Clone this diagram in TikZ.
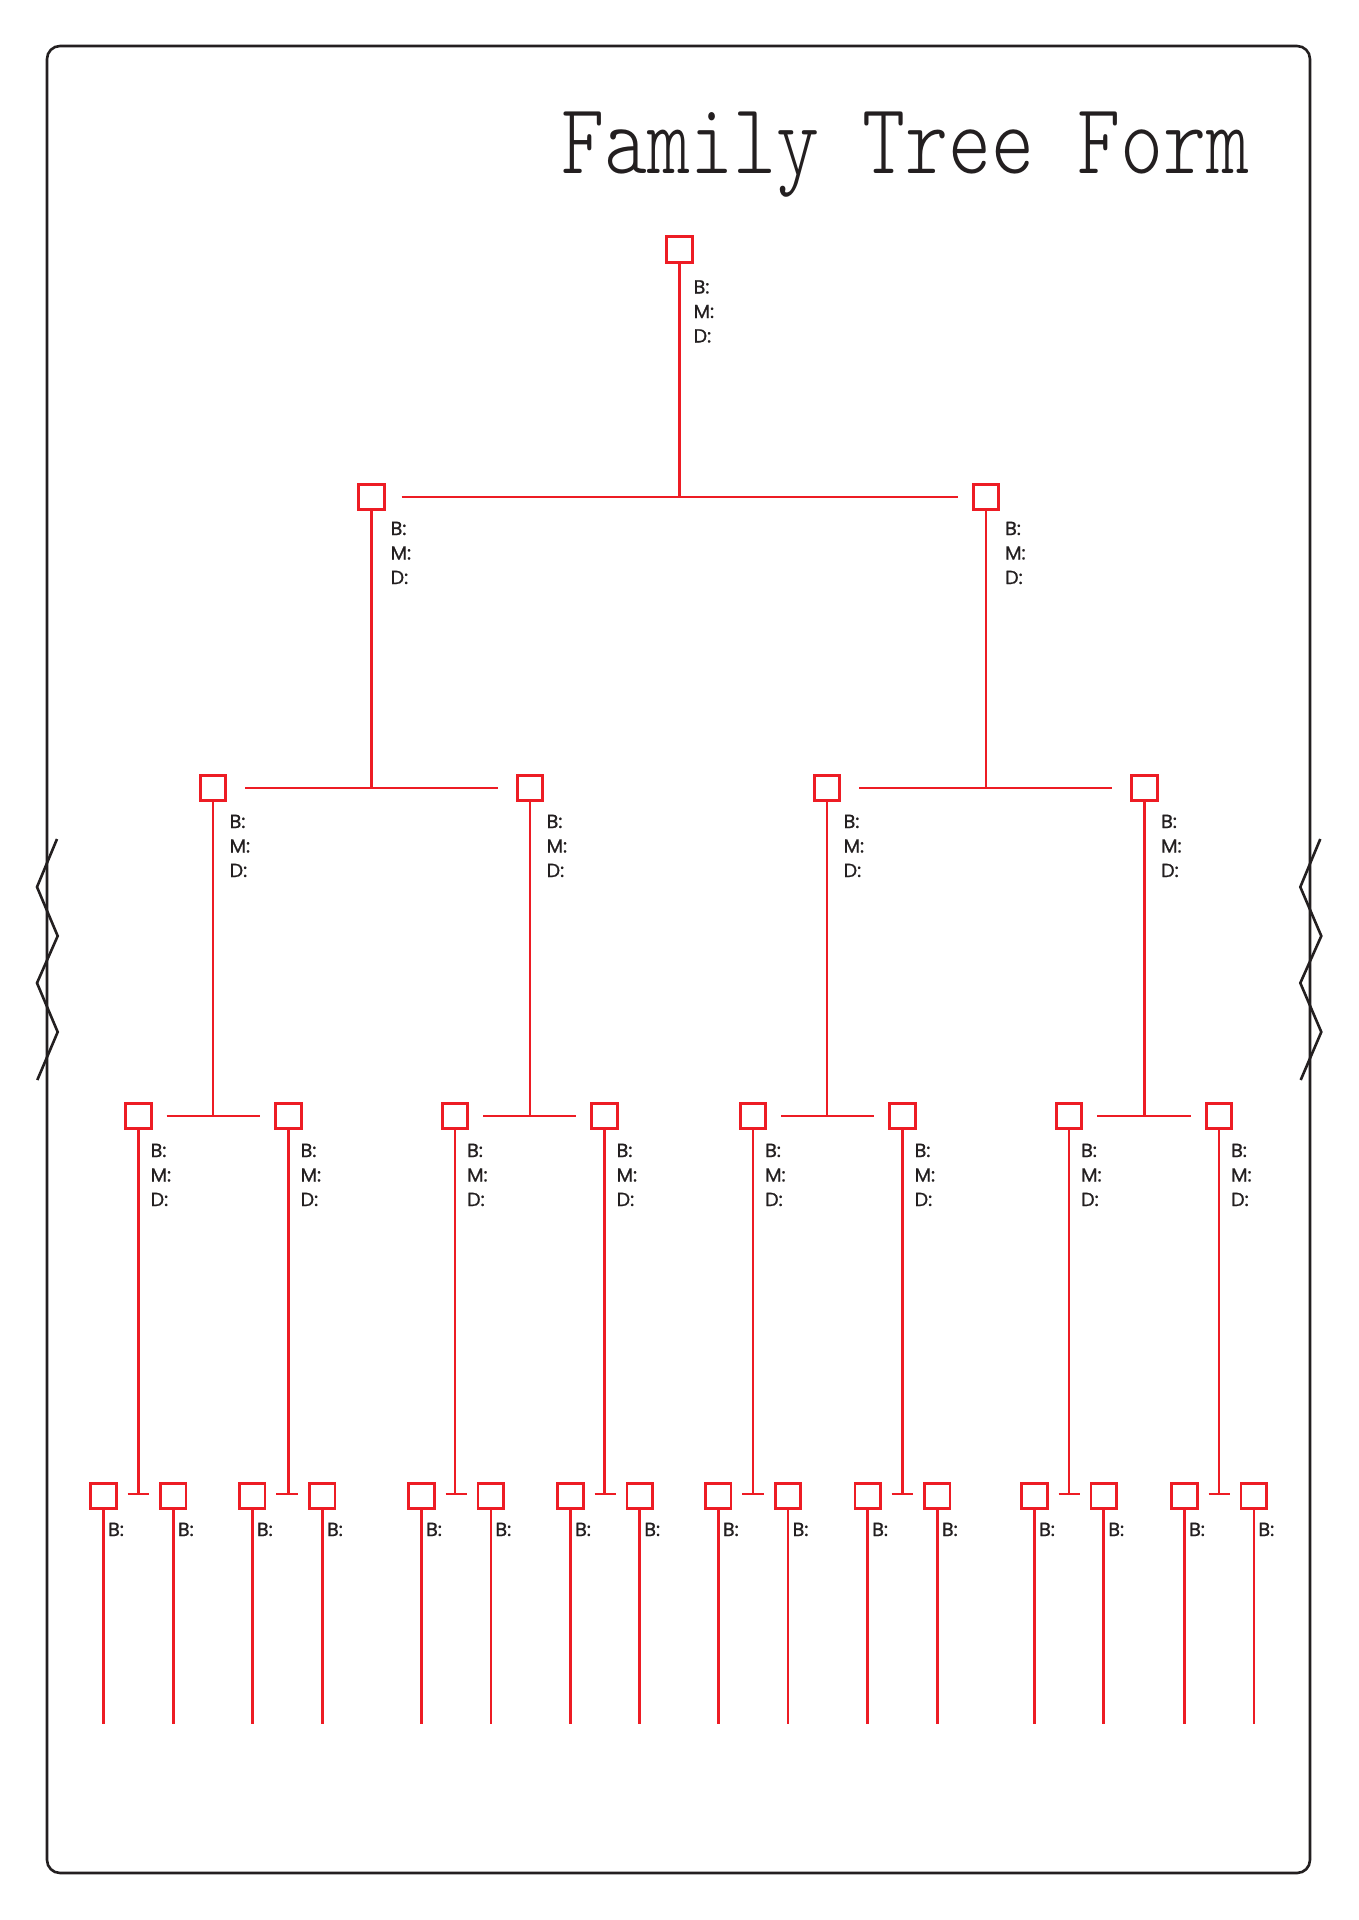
\documentclass[tikz,border=0pt]{standalone}
\usepackage{fontspec}
\usetikzlibrary{calc}
\newfontfamily\lblfont[FakeBold=0.9]{Poppins}
\newfontfamily\titlefont{lmmonolt10-regular.otf}
\definecolor{tred}{HTML}{ED1C24}
\definecolor{tdark}{HTML}{231F20}
\newcommand\famlabels[3]{%
  \node[lbl] (#1-B) at ($(#1.center)+(#2,#3)$) {B:};
  \node[lbl] (#1-M) at ($(#1.center)+(#2,#3+24.5)$) {M:};
  \node[lbl] (#1-D) at ($(#1.center)+(#2,#3+49)$) {D:};
}
\tikzset{
  pbox/.style={draw=tred, line width=2.6pt, inner sep=0pt, minimum size=25.5pt, fill=white},
  conn/.style={draw=tred, line width=2.6pt},
  lbl/.style={anchor=base west, inner sep=0pt, text=tdark, font=\lblfont\fontsize{19}{21}\selectfont},
  frameline/.style={draw=tdark, line width=2.6pt}
}
\begin{document}
\begin{tikzpicture}[x=1pt,y=-1pt]
\useasboundingbox (0,0) rectangle (1358,1920);
\fill[white] (0,0) rectangle (1358,1920);
% frame
\draw[frameline, rounded corners=13pt] (47,46) rectangle (1310,1873);
% zigzags
\draw[frameline, line join=miter] (57,839) -- (37,887) -- (57.7,936) -- (37,983) -- (57.7,1032) -- (37.3,1080);
\draw[frameline, line join=miter] (1320.3,839) -- (1300.3,887) -- (1321.3,936) -- (1300.3,983) -- (1321.3,1032) -- (1300.7,1080);
% title
\node[anchor=base east, inner sep=0pt, text=tdark] (title) at (1250,173.3)
  {\scalebox{0.813}[1]{\titlefont\fontsize{100.8}{110}\selectfont Family Tree Form}};
% boxes
\node[pbox] (r) at (679.5,249.5) {};
\node[pbox] (a1) at (371.5,497) {};
\node[pbox] (a2) at (986,497) {};
\foreach \n/\x in {1/213,2/530,3/827,4/1144.5}
  \node[pbox] (b\n) at (\x,788) {};
\foreach \n/\x in {1/138.5,2/288.5,3/455,4/604.5,5/753,6/902.5,7/1069,8/1219}
  \node[pbox] (c\n) at (\x,1116) {};
\foreach \n/\x in {1/103.5,2/173.3,3/252.3,4/322.4,5/421.5,6/490.8,7/570.5,8/639.7,
                   9/718.3,10/788,11/867.6,12/937.3,13/1034.5,14/1103.7,15/1184.5,16/1253.8}
  \node[pbox] (d\n) at (\x,1496) {};
% connectors: root
\draw[conn] (r.south) -- (r.south |- a1.center);
\draw[conn] ([xshift=16pt]a1.east) -- ([xshift=-14pt]a2.west);
% level 1
\foreach \i [evaluate=\i as \j using int(2*\i-1), evaluate=\i as \k using int(2*\i)] in {1,2} {
  \draw[conn] (a\i.south) -- (a\i.south |- b\j.center);
  \draw[conn] ([xshift=18pt]b\j.east) -- ([xshift=-18pt]b\k.west);
}
% level 2
\foreach \i [evaluate=\i as \j using int(2*\i-1), evaluate=\i as \k using int(2*\i)] in {1,...,4} {
  \draw[conn] (b\i.south) -- (b\i.south |- c\j.center);
  \draw[conn] ([xshift=14pt]c\j.east) -- ([xshift=-14pt]c\k.west);
}
% level 3
\foreach \i [evaluate=\i as \j using int(2*\i-1), evaluate=\i as \k using int(2*\i)] in {1,...,8} {
  \coordinate (t\i) at ($(c\i.south |- d\j.center)+(0,-2)$);
  \draw[conn] (c\i.south) -- (t\i);
  \draw[conn] ([xshift=10pt]d\j.east |- t\i) -- ([xshift=-10pt]d\k.west |- t\i);
}
% level 4
\foreach \i in {1,...,16} {
  \coordinate (e\i) at (d\i.south |- 0,1724);
  \draw[conn] (d\i.south) -- (e\i);
}
% labels
\famlabels{r}{14}{44}
\famlabels{a1}{19}{38}
\famlabels{a2}{19}{38}
\foreach \n in {1,...,4} {\famlabels{b\n}{16.5}{40}}
\foreach \n in {1,...,8} {\famlabels{c\n}{12}{41}}
\foreach \n in {1,...,16} {\node[lbl] (d\n-B) at ($(d\n.center)+(4.5,40)$) {B:};}
\end{tikzpicture}
\end{document}
